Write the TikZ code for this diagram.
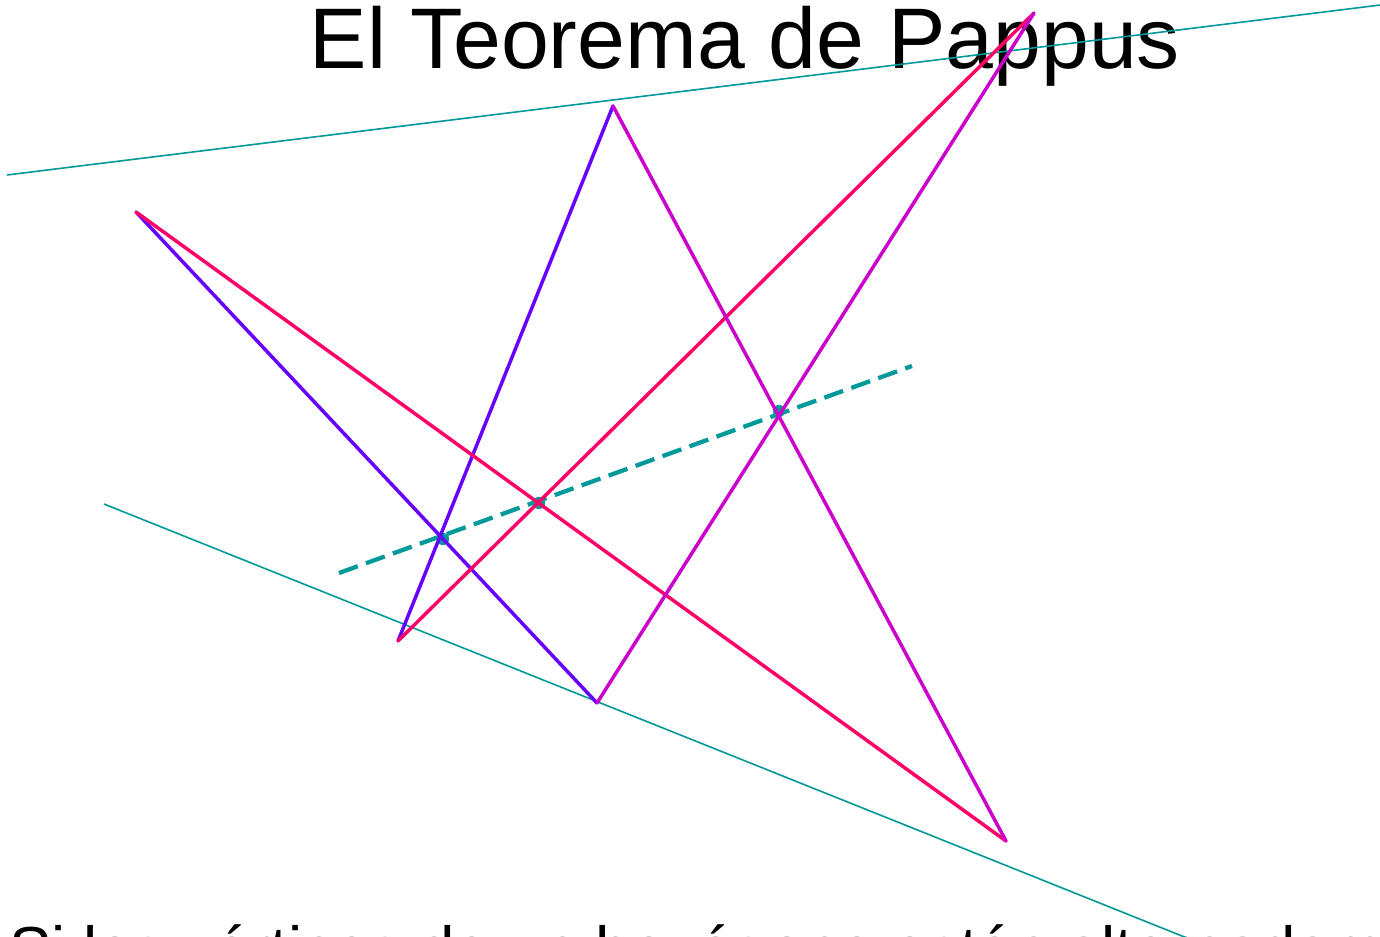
\documentclass[tikz,border=0pt]{standalone}
\usepackage{fontspec}
\setmainfont{Liberation Sans}
\definecolor{tealc}{HTML}{009999}
\definecolor{bluec}{HTML}{6600FF}
\definecolor{redc}{HTML}{FF0066}
\definecolor{magc}{HTML}{CC00CC}
\begin{document}
\begin{tikzpicture}[x=0.75pt,y=-0.75pt,
  thinline/.style={draw=tealc,line width=1.2pt},
  hexline/.style={line width=2.6pt,line cap=round},
  pappusline/.style={draw=tealc,line width=3.2pt,dash pattern=on 15pt off 6.5pt},
  meetdot/.style={fill=tealc}]
\clip (0,0) rectangle (1380,937);
\fill[white] (0,0) rectangle (1380,937);
% points
\coordinate (P) at (136,212);
\coordinate (A) at (613,106);
\coordinate (B) at (1034,13);
\coordinate (Q1) at (398,641);
\coordinate (Q2) at (597,703);
\coordinate (Q3) at (1006,841);
\coordinate (T1) at (7,175);
\coordinate (T2) at (1386,4.3);
\coordinate (U1) at (104,504);
\coordinate (U2) at (1192,940);
\coordinate (D1) at (339,573);
\coordinate (D2) at (912,366);
\coordinate (X1) at (443,539);
\coordinate (X2) at (539,503);
\coordinate (X3) at (779,411);
% title and text
\node[anchor=base,inner sep=0pt,font=\fontsize{64.5pt}{70pt}\selectfont] (title) at (745,69) {El Teorema de Pappus};
\node[anchor=base west,inner sep=0pt,font=\fontsize{47.7pt}{52pt}\selectfont] (texto) at (9,971) {Si los vértices de un hexágono están alternadamente sobre dos rectas};
% teal lines
\draw[thinline] (T1) -- (T2);
\draw[thinline] (U1) -- (U2);
\draw[pappusline] (D1) -- (D2);
\fill[meetdot] (X1) circle (4.6pt);
\fill[meetdot] (X2) circle (4.6pt);
\fill[meetdot] (X3) circle (4.6pt);
% hexagon
\draw[hexline,bluec] (P) -- (Q2);
\draw[hexline,bluec] (Q1) -- (A);
\draw[hexline,redc] (P) -- (Q3);
\draw[hexline,redc] (Q1) -- (B);
\draw[hexline,magc] (A) -- (Q3);
\draw[hexline,magc] (Q2) -- (B);
\end{tikzpicture}
\end{document}
